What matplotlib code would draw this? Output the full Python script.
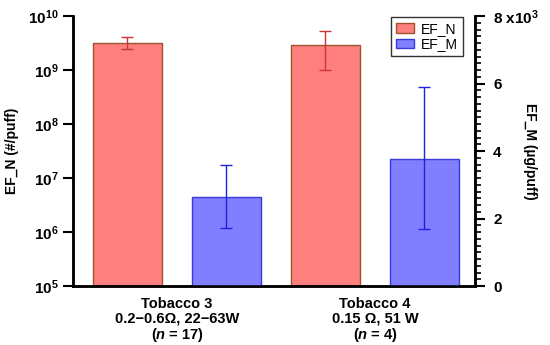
import matplotlib
matplotlib.use("Agg")
import matplotlib.pyplot as plt
import matplotlib.ticker as mticker
import numpy as np

plt.rcParams["font.family"] = ["Liberation Sans", "DejaVu Sans"]
plt.rcParams["mathtext.fontset"] = "custom"
plt.rcParams["mathtext.rm"] = "Liberation Sans:bold"
plt.rcParams["mathtext.bf"] = "Liberation Sans:bold"
plt.rcParams["mathtext.it"] = "Liberation Sans:bold:italic"

# data
groups = ["Tobacco 3\n0.2\u22120.6\u03a9, 22\u221263W\n($\\it{n}$ = 17)",
          "Tobacco 4\n0.15 \u03a9, 51 W\n($\\it{n}$ = 4)"]
ef_n = [3.2e9, 2.9e9]            # #/puff
ef_n_low = [2.45e9, 1.0e9]
ef_n_high = [4.1e9, 5.3e9]
ef_m = [2.63, 3.76]              # x10^3 ug/puff
ef_m_low = [1.72, 1.69]
ef_m_high = [3.58, 5.9]

red_fill, red_edge, red_err = "#ff7f7f", "#a0522d", "#cc3333"
blue_fill, blue_edge, blue_err = "#7f7fff", "#3a3ad8", "#2020dd"

x = np.arange(len(groups))
w = 0.35
off = 0.25

fig = plt.figure(figsize=(5.5, 3.45), dpi=100)
ax = fig.add_axes([0.1327, 0.171, 0.7309, 0.7826])
ax2 = ax.twinx()

n_err = [np.array(ef_n) - np.array(ef_n_low), np.array(ef_n_high) - np.array(ef_n)]
m_err = [np.array(ef_m) - np.array(ef_m_low), np.array(ef_m_high) - np.array(ef_m)]

b1 = ax.bar(x - off, np.array(ef_n) - 1e5, w, bottom=1e5, color=red_fill,
            edgecolor=red_edge, linewidth=1, label="EF_N")
ax.errorbar(x - off, ef_n, yerr=n_err, fmt="none", ecolor=red_err,
            elinewidth=1, capsize=4, capthick=1)
b2 = ax2.bar(x + off, ef_m, w, color=blue_fill, edgecolor=blue_edge,
             linewidth=1, label="EF_M")
ax2.errorbar(x + off, ef_m, yerr=m_err, fmt="none", ecolor=blue_err,
             elinewidth=1, capsize=4, capthick=1)

ax.set_yscale("log")
ax.set_ylim(1e5, 1e10)
ax.set_xlim(-0.525, 1.505)
ax.yaxis.set_major_locator(mticker.LogLocator(base=10, numticks=10))
ax.yaxis.set_minor_locator(mticker.NullLocator())
ax.yaxis.set_major_formatter(mticker.FuncFormatter(
    lambda v, p: "$\\mathbf{10^{%d}}$" % round(np.log10(v))))
ax.set_xticks(x)
ax.set_xticklabels(groups, fontsize=10.5, fontweight="bold", linespacing=1.05)
ax.tick_params(axis="x", length=0, pad=8)
ax.tick_params(axis="y", direction="out", length=7, width=1.5, labelsize=11)

ax2.set_ylim(0, 8)
ax2.yaxis.set_major_locator(mticker.MultipleLocator(2))
ax2.yaxis.set_minor_locator(mticker.MultipleLocator(0.2))
ax2.yaxis.set_major_formatter(mticker.FuncFormatter(
    lambda v, p: "8 x10$^3$" if round(v) == 8 else "%d" % round(v)))
ax2.tick_params(axis="y", which="major", direction="out", length=7,
                width=1.5, labelsize=11, pad=6)
ax2.tick_params(axis="y", which="minor", direction="out", length=4, width=1.2)
for lab in ax2.get_yticklabels():
    lab.set_fontweight("bold")

for a in (ax, ax2):
    a.spines["top"].set_visible(False)
    for s in ("left", "right", "bottom"):
        a.spines[s].set_linewidth(1.8)

ax.set_ylabel("EF_N (#/puff)", fontsize=10, fontweight="bold", labelpad=6)
ax2.set_ylabel("EF_M (\u00b5g/puff)", fontsize=10, fontweight="bold",
               rotation=270, labelpad=10)
ax2.yaxis.set_label_coords(1.155, 0.5)

leg = ax2.legend(handles=[b1, b2], loc="upper right",
                 bbox_to_anchor=(0.970, 0.996), fontsize=10,
                 frameon=True, fancybox=False, edgecolor="black",
                 handlelength=1.3, handleheight=0.7, handletextpad=0.5,
                 borderaxespad=0, borderpad=0.35, labelspacing=0.1)
leg.get_frame().set_linewidth(1)

fig.savefig("out.png", dpi=100)
